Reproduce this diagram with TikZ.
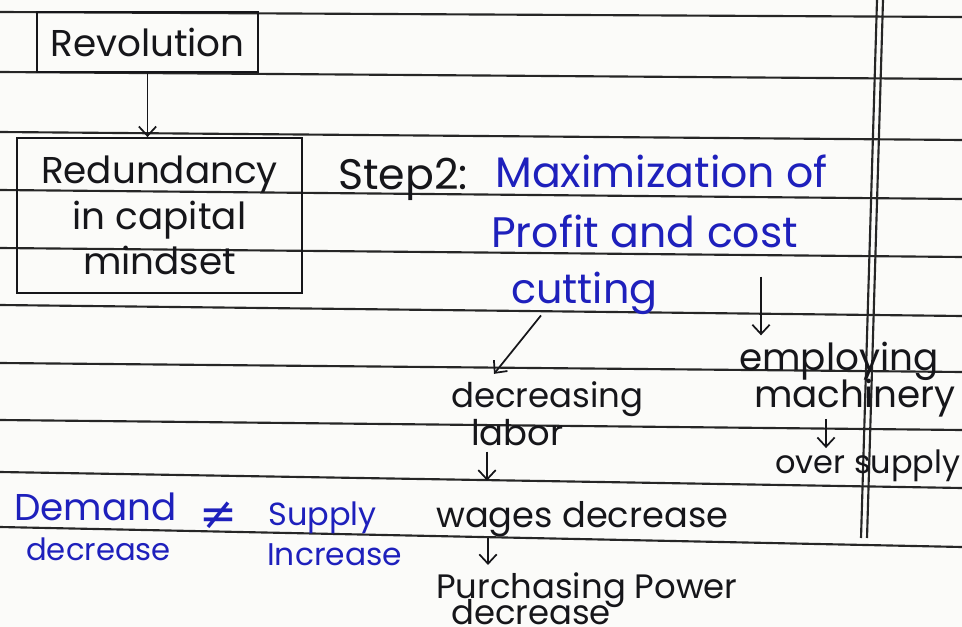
\documentclass[tikz,border=0pt]{standalone}
\usepackage{fontspec}
\setmainfont{Poppins}
\newfontfamily\symfont{DejaVu Sans}
\usetikzlibrary{arrows.meta,calc}

\definecolor{ink}{RGB}{22,22,26}
\definecolor{blueink}{RGB}{30,32,188}
\definecolor{rulegray}{RGB}{38,38,38}
\definecolor{paper}{RGB}{251,251,249}

\tikzset{
  hand/.style={inner sep=0.75pt, text=ink, font=\fontsize{#1}{34}\selectfont},
  hand/.default=28,
  bluehand/.style={hand=#1, text=blueink},
  bluehand/.default=28,
  boxed/.style={draw=ink, line width=1.6pt, align=center},
  arr/.style={draw=ink, line width=1.3pt, -{Straight Barb[length=7pt,width=13pt,line width=1.3pt]}},
  ruling/.style={draw=rulegray, line width=1.6pt},
}

\begin{document}
\begin{tikzpicture}[x=0.75pt,y=0.75pt,yscale=-1,xscale=1]
  \fill[paper] (0,0) rectangle (962,627);
  \useasboundingbox (0,0) rectangle (962,627);

  %Straight Lines: page ruling
  \draw [ruling] (0,12) -- (962,17) ;
  \draw [ruling] (0,72) -- (962,79) ;
  \draw [ruling] (0,132) -- (962,140) ;
  \draw [ruling] (0,190) -- (962,199) ;
  \draw [ruling] (0,248) -- (962,257) ;
  \draw [ruling] (0,305) -- (962,316) ;
  \draw [ruling] (0,363) -- (962,372) ;
  \draw [ruling] (0,420) -- (962,430) ;
  \draw [ruling] (0,472) -- (962,488) ;
  \draw [ruling] (0,527) -- (962,547) ;
  %Straight Lines: margin
  \draw [ruling] (877,0) -- (861,538) ;
  \draw [ruling] (883,0) -- (867,538) ;

  % Boxes
  \draw (147.5,42) node [hand, boxed, minimum width=166pt, minimum height=45pt] (rev) {Revolution};
  \draw (159.5,215.5) node [hand, boxed, minimum width=214pt, minimum height=116pt] (red) {Redundancy\\in capital\\mindset};

  % Text Node
  \draw (337,190) node [hand=32, anchor=base west] (step) {Step2:};
  % Text Node
  \draw (494,188) node [bluehand=32, anchor=base west] (max) {Maximization of};
  % Text Node
  \draw (490,247) node [bluehand=32, anchor=base west] (prof) {Profit and cost};
  % Text Node
  \draw (510,303) node [bluehand=31, anchor=base west] (cut) {cutting};
  % Text Node
  \draw (450,407) node [hand=25.5, anchor=base west] (decr) {decreasing};
  % Text Node
  \draw (470,445) node [hand=26.5, anchor=base west] (labor) {labor};
  % Text Node
  \draw (435,527) node [hand=26.4, anchor=base west] (wages) {wages decrease};
  % Text Node
  \draw (435,598) node [hand=25.4, anchor=base west] (purch) {Purchasing Power};
  % Text Node
  \draw (450,624) node [hand=25.4, anchor=base west] (purchb) {decrease};
  % Text Node
  \draw (738,370) node [hand, anchor=base west] (emp) {employing};
  % Text Node
  \draw (753,407) node [hand, anchor=base west] (mach) {machinery};
  % Text Node
  \draw (774,473) node [hand=24, anchor=base west] (over) {over supply};
  % Text Node
  \draw (13,520) node [bluehand, anchor=base west] (dem) {Demand};
  % Text Node
  \draw (25,560) node [bluehand=23, anchor=base west] (demb) {decrease};
  % Text Node
  \draw (218,516) node [bluehand=34] (neq) {\symfont ≠};
  % Text Node
  \draw (267,525) node [bluehand=24, anchor=base west] (sup) {Supply};
  % Text Node
  \draw (266,565) node [bluehand=23.5, anchor=base west] (supb) {Increase};

  % Arrows
  \draw [arr] (rev.south) -- (rev.south |- red.north) ;
  \draw [arr] ($(cut.south west)+(31,0)$) -- ($(decr.north west)+(44,-6)$) ;
  \draw [arr] ($(prof.south west)+(271,28)$) -- ($(emp.north west)+(23,-5)$) ;
  \draw [arr] ($(labor.south west)+(17,5)$) -- ($(wages.north west)+(52,-19)$) ;
  \draw [arr] ($(wages.south west)+(53,0)$) -- ($(purch.north west)+(53,-6)$) ;
  \draw [arr] ($(mach.south west)+(73,1)$) -- ($(over.north west)+(52,0)$) ;

\end{tikzpicture}
\end{document}
